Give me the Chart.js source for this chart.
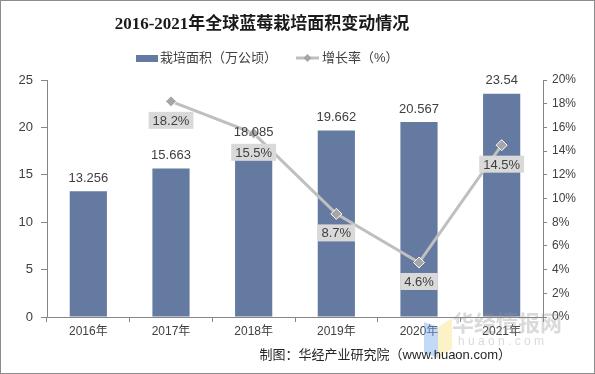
<!DOCTYPE html>
<html>
<head>
<meta charset="utf-8">
<script src="https://cdn.jsdelivr.net/npm/chart.js@4/dist/chart.umd.min.js"></script>
<style>
  html, body { margin: 0; padding: 0; background: #fff; }
  #wrap { width: 595px; height: 374px; position: relative; }
</style>
</head>
<body>
<div id="wrap"><canvas id="c" width="595" height="374"></canvas></div>
<script>
const years = ['2016年', '2017年', '2018年', '2019年', '2020年', '2021年'];
const area = [13.256, 15.663, 18.085, 19.662, 20.567, 23.54];
const growth = [null, 18.2, 15.5, 8.7, 4.6, 14.5];
const leftTicks = [0, 5, 10, 15, 20, 25];
const rightTicks = [0, 2, 4, 6, 8, 10, 12, 14, 16, 18, 20];

const textColor = '#404040';
const axisColor = '#868686';
const barColor = '#657aa0';
const lineColor = '#bfbfbf';
const cjk = '"Liberation Sans", "Noto Sans CJK SC", sans-serif';

// title, legend, source line, border, value labels
const decor = {
    id: 'decor',
    afterDraw(chart) {
        const ctx = chart.ctx;
        ctx.save();

        // outer frame
        ctx.strokeStyle = '#8c8c8c';
        ctx.lineWidth = 1;
        ctx.strokeRect(0.5, 0.5, 594, 373);

        // title
        ctx.fillStyle = '#1a1a1a';
        ctx.font = 'bold 17px "Liberation Serif", "Noto Sans CJK SC", serif';
        ctx.textAlign = 'center';
        ctx.textBaseline = 'middle';
        ctx.fillText('2016-2021年全球蓝莓栽培面积变动情况', 262, 25);

        // legend
        ctx.font = '13px ' + cjk;
        ctx.textAlign = 'left';
        ctx.fillStyle = barColor;
        ctx.fillRect(136, 55, 22, 7);
        ctx.fillStyle = textColor;
        ctx.fillText('栽培面积（万公顷）', 160, 58);
        ctx.strokeStyle = lineColor;
        ctx.lineWidth = 3;
        ctx.beginPath();
        ctx.moveTo(296, 58);
        ctx.lineTo(319, 58);
        ctx.stroke();
        ctx.fillStyle = '#a6a6a6';
        ctx.beginPath();
        ctx.moveTo(307.5, 54); ctx.lineTo(311.5, 58); ctx.lineTo(307.5, 62); ctx.lineTo(303.5, 58);
        ctx.closePath();
        ctx.fill();
        ctx.fillStyle = textColor;
        ctx.fillText('增长率（%）', 322, 58);

        // watermark
        ctx.fillStyle = 'rgba(120,170,240,0.45)';
        ctx.beginPath();
        ctx.moveTo(424, 322); ctx.lineTo(438, 327); ctx.lineTo(438, 358); ctx.lineTo(424, 353);
        ctx.closePath(); ctx.fill();
        ctx.fillStyle = 'rgba(250,225,130,0.45)';
        ctx.beginPath();
        ctx.moveTo(438, 327); ctx.lineTo(452, 318); ctx.lineTo(452, 349); ctx.lineTo(438, 358);
        ctx.closePath(); ctx.fill();
        ctx.fillStyle = 'rgba(150,150,150,0.35)';
        ctx.font = 'bold 22px "Noto Sans CJK SC", sans-serif';
        ctx.fillText('华经情报网', 452, 323);
        ctx.font = '12px "Liberation Sans", sans-serif';
        ctx.fillText('h u a o n . c o m', 458, 342);

        // source
        ctx.fillStyle = '#262626';
        ctx.font = '13px ' + cjk;
        ctx.textAlign = 'right';
        ctx.fillText('制图：华经产业研究院（www.huaon.com）', 511, 355);

        // bar value labels
        ctx.textAlign = 'center';
        ctx.fillStyle = textColor;
        ctx.font = '13px "Liberation Sans", sans-serif';
        chart.getDatasetMeta(0).data.forEach((bar, i) => {
            ctx.fillText(String(area[i]), bar.x, bar.y - 13);
        });

        // growth labels with grey boxes
        chart.getDatasetMeta(1).data.forEach((pt, i) => {
            if (growth[i] == null) return;
            const label = growth[i].toFixed(1) + '%';
            const w = ctx.measureText(label).width + 8;
            const h = 17;
            const cy = pt.y + 19;
            ctx.fillStyle = '#d9d9d9';
            ctx.fillRect(pt.x - w / 2, cy - h / 2, w, h);
            ctx.fillStyle = textColor;
            ctx.fillText(label, pt.x, cy + 1);
        });
        ctx.restore();
    }
};

new Chart(document.getElementById('c'), {
    data: {
        labels: years,
        datasets: [{
            type: 'bar',
            data: area,
            backgroundColor: barColor,
            barPercentage: 0.45,
            categoryPercentage: 1,
            yAxisID: 'y',
            order: 2
        }, {
            type: 'line',
            data: growth,
            borderColor: lineColor,
            borderWidth: 3,
            tension: 0,
            pointStyle: 'rectRot',
            pointRadius: 5.5,
            pointBackgroundColor: '#a6a6a6',
            pointBorderColor: '#ffffff',
            pointBorderWidth: 1,
            yAxisID: 'y1',
            order: 1
        }]
    },
    options: {
        responsive: false,
        animation: false,
        events: [],
        layout: { padding: { top: 80, left: 0, right: 0, bottom: 0 } },
        plugins: {
            legend: { display: false },
            title: { display: false },
            tooltip: { enabled: false }
        },
        scales: {
            x: {
                offset: true,
                grid: { display: true, drawOnChartArea: false, drawTicks: true, tickLength: 5, color: axisColor, offset: true },
                border: { color: axisColor },
                ticks: { color: textColor, font: { size: 12, family: cjk }, padding: 2 },
                afterFit(scale) { scale.height = 57; }
            },
            y: {
                position: 'left',
                min: 0, max: 25,
                afterBuildTicks(scale) { scale.ticks = leftTicks.map(v => ({ value: v })); },
                grid: { display: true, drawOnChartArea: false, drawTicks: true, tickLength: 6, color: axisColor },
                border: { color: axisColor },
                ticks: { color: textColor, font: { size: 13, family: '"Liberation Sans", sans-serif' }, padding: 8 },
                afterFit(scale) { scale.width = 47; }
            },
            y1: {
                position: 'right',
                min: 0, max: 20,
                afterBuildTicks(scale) { scale.ticks = rightTicks.map(v => ({ value: v })); },
                grid: { display: true, drawOnChartArea: false, drawTicks: true, tickLength: 4, color: axisColor },
                border: { color: axisColor },
                ticks: {
                    color: textColor,
                    font: { size: 12, family: '"Liberation Sans", sans-serif' },
                    padding: 5,
                    callback: v => v + '%'
                },
                afterFit(scale) { scale.width = 52; }
            }
        }
    },
    plugins: [decor]
});
</script>
</body>
</html>
